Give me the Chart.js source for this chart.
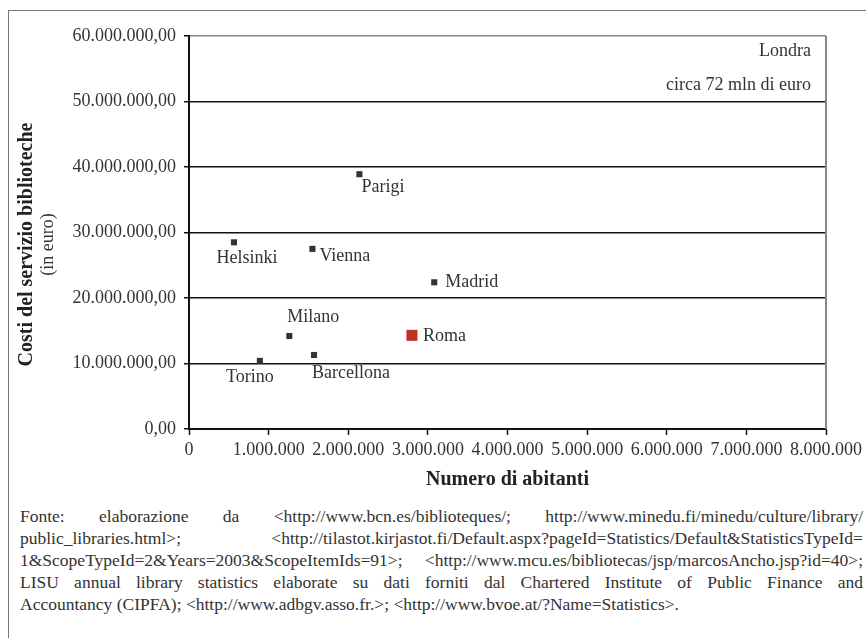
<!DOCTYPE html>
<html>
<head>
<meta charset="utf-8">
<script src="https://cdn.jsdelivr.net/npm/chart.js@4.4.0/dist/chart.umd.min.js"></script>
<style>
  body { margin: 0; background: #fff; font-family: "Liberation Serif", serif; color: #333; }
  #frame { position: absolute; left: 8px; top: 10px; width: 900px; height: 700px;
           border-left: 1.5px solid #777; border-top: 1.5px solid #777; }
  #wrap { position: absolute; left: 0; top: 0; width: 866px; height: 500px; }
  #fonte { position: absolute; left: 20px; top: 505px; width: 843px;
           font-size: 17.5px; line-height: 22px; color: #333; }
  #fonte div { text-align: justify; text-align-last: justify; white-space: nowrap; }
  #fonte div.last { text-align-last: left; }
</style>
</head>
<body>
<div id="frame"></div>
<div id="wrap"><canvas id="chart" width="866" height="500"></canvas></div>
<div id="fonte"></div>
<script>
// valori
var cities = ["Helsinki", "Vienna", "Parigi", "Madrid", "Milano", "Roma", "Barcellona", "Torino"];
var abitanti = [565000, 1550000, 2140000, 3080000, 1260000, 2800000, 1570000, 890000];
var costi = [28500000, 27500000, 38900000, 22400000, 14200000, 14300000, 11300000, 10400000];
var evidenziata = "Roma";

// dove mettere il nome rispetto al punto: [dx, dy, align]
var labelPos = {
  Helsinki: [13, 16, "center"],
  Vienna: [7, 7, "left"],
  Parigi: [2, 13, "left"],
  Madrid: [11, 0, "left"],
  Milano: [24, -19, "center"],
  Roma: [11, 1, "left"],
  Barcellona: [-2, 18, "left"],
  Torino: [-10, 16, "center"]
};

var fonteLines = [
  "Fonte: elaborazione da <http://www.bcn.es/biblioteques/; http://www.minedu.fi/minedu/culture/library/",
  "public_libraries.html>; <http://tilastot.kirjastot.fi/Default.aspx?pageId=Statistics/Default&StatisticsTypeId=",
  "1&ScopeTypeId=2&Years=2003&ScopeItemIds=91>; <http://www.mcu.es/bibliotecas/jsp/marcosAncho.jsp?id=40>;",
  "LISU annual library statistics elaborate su dati forniti dal Chartered Institute of Public Finance and",
  "Accountancy (CIPFA); <http://www.adbgv.asso.fr.>; <http://www.bvoe.at/?Name=Statistics>."
];

var SERIF = "'Liberation Serif', 'DejaVu Serif', serif";

function dots(n) {
  return String(Math.round(n)).replace(/\B(?=(\d{3})+(?!\d))/g, ".");
}

var fonte = document.getElementById("fonte");
fonteLines.forEach(function (line, i) {
  var d = document.createElement("div");
  d.textContent = line;
  if (i == fonteLines.length - 1) d.className = "last";
  fonte.appendChild(d);
});

var altre = [];
var roma = [];
cities.forEach(function (c, i) {
  var p = { x: abitanti[i], y: costi[i], city: c };
  if (c == evidenziata) roma.push(p);
  else altre.push(p);
});

var cityLabels = {
  id: "cityLabels",
  afterDatasetsDraw: function (chart) {
    var ctx = chart.ctx;
    ctx.save();
    ctx.font = "18px " + SERIF;
    ctx.fillStyle = "#333";
    ctx.textBaseline = "middle";
    chart.data.datasets.forEach(function (ds, di) {
      chart.getDatasetMeta(di).data.forEach(function (pt, j) {
        var name = ds.data[j].city;
        var pos = labelPos[name];
        ctx.textAlign = pos[2];
        ctx.fillText(name, pt.x + pos[0], pt.y + pos[1]);
      });
    });
    ctx.restore();
  }
};

var extras = {
  id: "extras",
  afterDraw: function (chart) {
    var ctx = chart.ctx;
    var a = chart.chartArea;
    ctx.save();
    // bordo destro dell'area
    ctx.strokeStyle = "#888";
    ctx.lineWidth = 2;
    ctx.beginPath();
    ctx.moveTo(a.right, a.top);
    ctx.lineTo(a.right, a.bottom);
    ctx.stroke();
    // nota Londra
    ctx.fillStyle = "#333";
    ctx.font = "18px " + SERIF;
    ctx.textAlign = "right";
    ctx.textBaseline = "middle";
    ctx.fillText("Londra", a.right - 15, a.top + 15);
    ctx.fillText("circa 72 mln di euro", a.right - 15, a.top + 49);
    // titolo asse y
    var cy = (a.top + a.bottom) / 2 + 12;
    ctx.translate(27, cy);
    ctx.rotate(-Math.PI / 2);
    ctx.textAlign = "center";
    ctx.fillStyle = "#222";
    ctx.font = "bold 20px " + SERIF;
    ctx.fillText("Costi del servizio biblioteche", 0, 0);
    ctx.font = "18px " + SERIF;
    ctx.fillStyle = "#333";
    ctx.fillText("(in euro)", 0, 21);
    ctx.restore();
  }
};

var ctx = document.getElementById("chart").getContext("2d");
new Chart(ctx, {
  type: "scatter",
  data: {
    datasets: [
      { data: altre, pointStyle: "rect", pointRadius: 4.3, backgroundColor: "#333", borderColor: "#333", borderWidth: 0 },
      { data: roma, pointStyle: "rect", pointRadius: 7.8, backgroundColor: "#bf3026", borderColor: "#bf3026", borderWidth: 0 }
    ]
  },
  options: {
    responsive: false,
    animation: false,
    layout: { padding: { top: 36, left: 0, right: 0, bottom: 0 } },
    plugins: { legend: { display: false }, tooltip: { enabled: false } },
    scales: {
      x: {
        type: "linear",
        min: 0,
        max: 8000000,
        ticks: {
          stepSize: 1000000,
          autoSkip: false,
          maxRotation: 0,
          padding: 4,
          color: "#333",
          font: { family: SERIF, size: 18 },
          callback: function (v) { return dots(v); }
        },
        grid: { drawOnChartArea: false, drawTicks: true, tickLength: 6, tickColor: "#111", tickWidth: 1.5 },
        border: { color: "#111", width: 2 },
        title: {
          display: true,
          text: "Numero di abitanti",
          color: "#222",
          font: { family: SERIF, size: 20, weight: "bold" },
          padding: { top: 4, bottom: 8 }
        },
        afterFit: function (s) { s.height = 71; s.paddingRight = 40; }
      },
      y: {
        min: 0,
        max: 60000000,
        ticks: {
          stepSize: 10000000,
          padding: 8,
          color: "#333",
          font: { family: SERIF, size: 18 },
          callback: function (v) { return dots(v) + ",00"; }
        },
        grid: {
          color: function (c) { return c.tick && c.tick.value == 60000000 ? "#888" : "#111"; },
          lineWidth: 1.5,
          tickLength: 5,
          tickColor: "#111"
        },
        border: { color: "#111", width: 2 },
        afterFit: function (s) { s.width = 189; }
      }
    }
  },
  plugins: [cityLabels, extras]
});
</script>
</body>
</html>
